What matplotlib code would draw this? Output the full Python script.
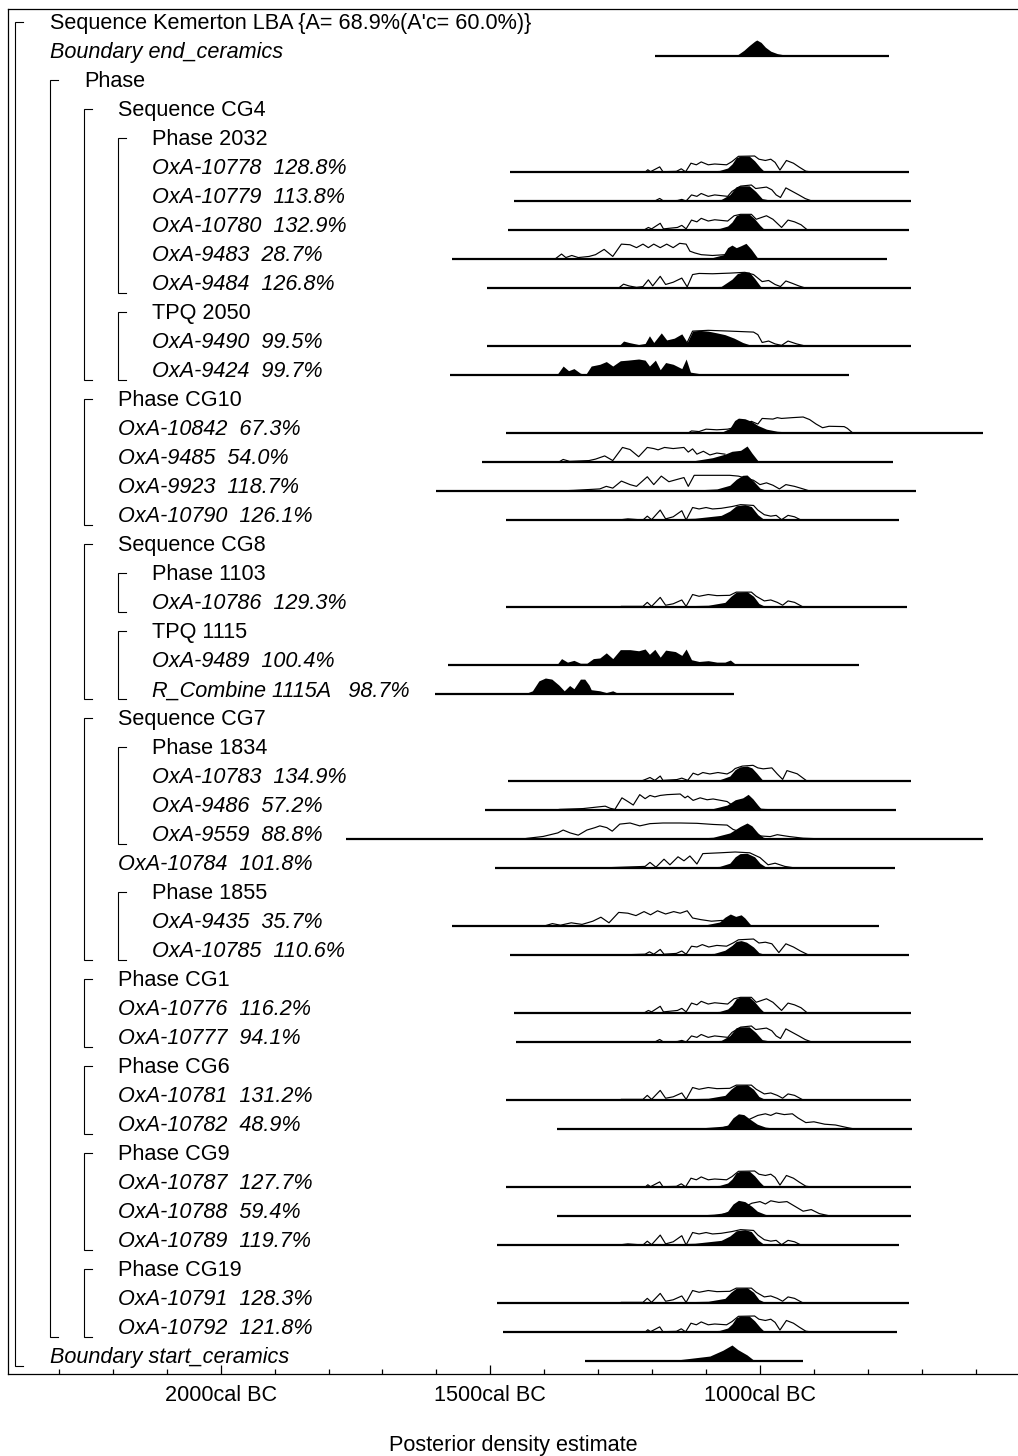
import matplotlib
matplotlib.use("Agg")
import matplotlib.pyplot as plt
from matplotlib import transforms

plt.rcParams["font.family"] = ["Liberation Sans", "DejaVu Sans"]

# ---- rows of the OxCal multiplot (top to bottom) ------------------------
LABELS = [
    "Sequence Kemerton LBA {A= 68.9%(A'c= 60.0%)}",
    "Boundary end_ceramics",
    "Phase",
    "Sequence CG4",
    "Phase 2032",
    "OxA-10778  128.8%",
    "OxA-10779  113.8%",
    "OxA-10780  132.9%",
    "OxA-9483  28.7%",
    "OxA-9484  126.8%",
    "TPQ 2050",
    "OxA-9490  99.5%",
    "OxA-9424  99.7%",
    "Phase CG10",
    "OxA-10842  67.3%",
    "OxA-9485  54.0%",
    "OxA-9923  118.7%",
    "OxA-10790  126.1%",
    "Sequence CG8",
    "Phase 1103",
    "OxA-10786  129.3%",
    "TPQ 1115",
    "OxA-9489  100.4%",
    "R_Combine 1115A   98.7%",
    "Sequence CG7",
    "Phase 1834",
    "OxA-10783  134.9%",
    "OxA-9486  57.2%",
    "OxA-9559  88.8%",
    "OxA-10784  101.8%",
    "Phase 1855",
    "OxA-9435  35.7%",
    "OxA-10785  110.6%",
    "Phase CG1",
    "OxA-10776  116.2%",
    "OxA-10777  94.1%",
    "Phase CG6",
    "OxA-10781  131.2%",
    "OxA-10782  48.9%",
    "Phase CG9",
    "OxA-10787  127.7%",
    "OxA-10788  59.4%",
    "OxA-10789  119.7%",
    "Phase CG19",
    "OxA-10791  128.3%",
    "OxA-10792  121.8%",
    "Boundary start_ceramics",
]
# g = group (Sequence/Phase/TPQ), d = date or boundary
KINDS = list("gdgggdddddgddgddddggdgddggddddgddgddgddgdddgddd")
DEPTHS = [0, 0, 1, 2, 3, 3, 3, 3, 3, 3, 3, 3, 3, 2, 2, 2, 2, 2, 2, 3, 3, 3, 3, 3,
          2, 3, 3, 3, 3, 2, 3, 3, 3, 2, 2, 2, 2, 2, 2, 2, 2, 2, 2, 2, 2, 2, 0]

# group brackets
GROUP_FIRST = [0, 2, 3, 4, 10, 13, 18, 19, 21, 24, 25, 30, 33, 36, 39, 43]
GROUP_LAST = [46, 45, 12, 9, 12, 17, 23, 20, 23, 32, 28, 32, 35, 38, 42, 45]
GROUP_DEPTH = [0, 1, 2, 3, 3, 2, 2, 3, 3, 2, 3, 3, 2, 2, 2, 2]

# plotted range of each distribution (cal BC)
RANGE_ROWS = [1, 5, 6, 7, 8, 9, 11, 12, 14, 15, 16, 17, 20, 22, 23, 26, 27, 28,
              29, 31, 32, 34, 35, 37, 38, 40, 41, 42, 44, 45, 46]
RANGE_FROM = [1195, 1464, 1456, 1467, 1571, 1506, 1506, 1575, 1471, 1515, 1601,
              1471, 1471, 1579, 1603, 1467, 1510, 1768, 1491, 1571, 1464, 1456,
              1452, 1471, 1376, 1471, 1376, 1488, 1488, 1477, 1324]
RANGE_TO = [761, 724, 720, 724, 765, 720, 720, 835, 587, 753, 711, 742, 727, 816,
            1048, 720, 748, 587, 750, 779, 724, 720, 720, 720, 718, 720, 720, 742,
            724, 746, 920]

# ---- distributions: (year cal BC, height relative to peak) -------------
POST_END = [(1195, 0), (1050, 0), (1044, 0.02), (1030, 0.35), (1020, 0.65),
            (1010, 0.92), (1006, 1.0), (998, 0.85), (990, 0.55), (980, 0.3),
            (968, 0.15), (955, 0.07), (935, 0.03), (880, 0.01), (761, 0)]
POST_START = [(1324, 0), (1250, 0.01), (1204, 0.03), (1148, 0.09), (1093, 0.31),
              (1069, 0.67), (1052, 1.0), (1041, 0.71), (1024, 0.38), (1013, 0.09),
              (1006, 0)]

LIK_10778 = [(1268, 0), (1212, 0.02), (1208, 0.14), (1203, 0.02), (1186, 0.32),
             (1180, 0.02), (1155, 0.04), (1146, 0.2), (1138, 0.01), (1128, 0.55),
             (1118, 0.45), (1109, 0.63), (1096, 0.45), (1084, 0.5), (1062, 0.45),
             (1052, 0.65), (1040, 0.98), (1010, 1.0), (1002, 0.8), (990, 0.72),
             (980, 0.8), (972, 0.6), (963, 0.12), (951, 0.72), (938, 0.55),
             (927, 0.3), (915, 0.05), (904, 0)]
POST_10778 = [(1270, 0), (1200, 0.02), (1120, 0.04), (1075, 0.1), (1060, 0.25),
              (1052, 0.5), (1044, 0.9), (1036, 1.0), (1020, 1.0), (1010, 0.7),
              (1000, 0.3), (994, 0.1), (980, 0.03), (930, 0.01), (900, 0)]

LIK_10779 = [(1195, 0), (1186, 0.16), (1179, 0), (1153, 0.03), (1145, 0.1),
             (1137, 0), (1127, 0.38), (1117, 0.29), (1109, 0.47), (1096, 0.29),
             (1084, 0.38), (1060, 0.29), (1052, 0.6), (1036, 0.93), (1016, 1.0),
             (1008, 0.78), (988, 0.87), (978, 0.7), (970, 0.38), (962, 0.22),
             (952, 0.82), (940, 0.6), (928, 0.38), (916, 0.15), (904, 0)]
POST_10779 = [(1380, 0), (1300, 0.03), (1200, 0.03), (1150, 0.02), (1072, 0.1),
              (1056, 0.4), (1044, 0.9), (1036, 0.95), (1020, 0.95), (1008, 0.6),
              (996, 0.15), (976, 0.03), (950, 0)]

LIK_10780 = [(1215, 0), (1207, 0.16), (1201, 0.07), (1185, 0.42), (1179, 0.07),
             (1153, 0.16), (1145, 0.29), (1137, 0.07), (1127, 0.62), (1117, 0.51),
             (1109, 0.73), (1096, 0.56), (1084, 0.64), (1060, 0.56), (1048, 0.89),
             (1036, 0.98), (1016, 0.98), (1007, 0.67), (988, 0.89), (976, 0.67),
             (960, 0.16), (948, 0.62), (936, 0.51), (924, 0.33), (912, 0)]

LIK_9483 = [(1380, 0), (1368, 0.31), (1360, 0.09), (1349, 0.22), (1337, 0.09),
            (1317, 0.16), (1305, 0.27), (1289, 0.6), (1273, 0.16), (1257, 0.93),
            (1241, 0.89), (1229, 0.71), (1217, 0.93), (1207, 0.71), (1197, 0.93),
            (1185, 0.71), (1173, 0.93), (1161, 0.71), (1149, 0.98), (1137, 0.93),
            (1130, 0.49), (1121, 0.38), (1109, 0.27), (1088, 0.22), (1065, 0.27),
            (1040, 0.15), (1010, 0.02), (1000, 0)]
POST_9483 = [(1380, 0), (1200, 0.02), (1110, 0.04), (1088, 0.09), (1068, 0.27),
             (1060, 0.71), (1052, 0.87), (1044, 0.71), (1036, 0.82), (1026, 0.98),
             (1016, 0.6), (1004, 0.04), (990, 0)]

LIK_9484 = [(1262, 0), (1253, 0.24), (1243, 0.13), (1229, 0.04), (1217, 0.09),
            (1207, 0.51), (1199, 0.13), (1185, 0.73), (1175, 0.22), (1161, 0.36),
            (1145, 0.62), (1135, 0.07), (1125, 0.84), (1113, 0.91), (1088, 0.89),
            (1056, 0.93), (1028, 0.98), (1012, 0.84), (996, 0.4), (984, 0.47),
            (972, 0.22), (962, 0.09), (952, 0.44), (940, 0.29), (928, 0.13),
            (916, 0)]
POST_9484 = [(1300, 0), (1150, 0.03), (1072, 0.1), (1052, 0.55), (1042, 0.9),
             (1032, 1.0), (1020, 1.0), (1010, 0.6), (999, 0.1), (976, 0)]

POST_9490 = [(1262, 0), (1253, 0.31), (1243, 0.22), (1225, 0.09), (1213, 0.16),
             (1205, 0.64), (1197, 0.22), (1183, 0.82), (1173, 0.38), (1159, 0.49),
             (1145, 0.76), (1135, 0.22), (1125, 0.93), (1113, 0.98), (1096, 0.93),
             (1080, 0.82), (1065, 0.71), (1048, 0.49), (1032, 0.22), (1016, 0.04),
             (1004, 0)]
LIK_9490 = [(1135, 0.22), (1125, 0.93), (1096, 0.98), (1056, 0.93), (1012, 0.87),
            (1004, 0.71), (996, 0.22), (984, 0.31), (972, 0.13), (960, 0.04),
            (948, 0.31), (932, 0.13), (916, 0)]

POST_9424 = [(1377, 0), (1365, 0.56), (1355, 0.27), (1345, 0.4), (1333, 0.11),
             (1323, 0.04), (1313, 0.56), (1297, 0.67), (1285, 0.84), (1273, 0.56),
             (1259, 0.89), (1245, 0.93), (1225, 1.0), (1213, 0.93), (1205, 0.56),
             (1194, 0.93), (1185, 0.33), (1175, 0.78), (1161, 0.67), (1145, 0.4),
             (1137, 1.0), (1129, 0.18), (1113, 0.09), (1080, 0.09), (1052, 0.07),
             (1040, 0)]

POST_10842 = [(1185, 0), (1129, 0.02), (1072, 0.04), (1056, 0.29), (1047, 0.78),
              (1040, 0.93), (1028, 0.89), (1016, 0.73), (1004, 0.47), (988, 0.24),
              (968, 0.11), (936, 0.04), (900, 0)]
LIK_10842 = [(1133, 0), (1127, 0.13), (1113, 0.09), (1100, 0.24), (1080, 0.2),
             (1060, 0.24), (1040, 0.4), (1016, 0.73), (1004, 0.56), (996, 0.91),
             (976, 0.87), (968, 0.96), (960, 0.91), (940, 0.96), (920, 1.0),
             (908, 0.84), (896, 0.56), (884, 0.33), (872, 0.42), (844, 0.4),
             (838, 0.29), (828, 0)]

POST_9485 = [(1300, 0), (1121, 0.09), (1088, 0.27), (1065, 0.49), (1052, 0.67),
             (1036, 0.73), (1024, 1.0), (1015, 0.56), (1002, 0)]
LIK_9485 = [(1373, 0), (1365, 0.16), (1353, 0.04), (1317, 0.09), (1305, 0.18),
            (1288, 0.38), (1273, 0.09), (1255, 0.91), (1241, 0.78), (1225, 0.33),
            (1209, 0.91), (1197, 0.84), (1189, 0.76), (1177, 0.91), (1161, 0.84),
            (1141, 0.91), (1133, 0.62), (1125, 0.82), (1117, 0.49), (1105, 0.67),
            (1093, 0.44), (1080, 0.56), (1065, 0.49)]

POST_9923 = [(1200, 0), (1137, 0.04), (1080, 0.13), (1056, 0.36), (1044, 0.73),
             (1032, 0.98), (1024, 1.0), (1012, 0.62), (1000, 0.18), (984, 0)]
LIK_9923 = [(1375, 0), (1345, 0.04), (1297, 0.13), (1285, 0.29), (1273, 0.18),
            (1257, 0.62), (1241, 0.4), (1229, 0.29), (1209, 0.89), (1197, 0.4),
            (1183, 0.93), (1169, 0.58), (1153, 0.73), (1141, 0.84), (1133, 0.29),
            (1122, 0.98), (1096, 0.98), (1056, 0.98), (1040, 0.93), (1012, 0.67),
            (1000, 0.4), (988, 0.51), (976, 0.36), (964, 0.13), (952, 0.4),
            (936, 0.29), (920, 0.13), (908, 0)]

POST_10790 = [(1257, 0), (1121, 0.11), (1072, 0.29), (1056, 0.56), (1044, 0.89),
              (1028, 0.96), (1016, 0.84), (1004, 0.33), (992, 0.02), (980, 0)]
LIK_10790 = [(1257, 0.02), (1245, 0.07), (1217, 0), (1209, 0.24), (1201, 0.02),
             (1185, 0.62), (1175, 0.07), (1161, 0.2), (1145, 0.58), (1137, 0),
             (1125, 0.78), (1113, 0.69), (1100, 0.78), (1088, 0.69), (1072, 0.73),
             (1052, 0.84), (1036, 0.96), (1012, 0.91), (1004, 0.62), (992, 0.33),
             (980, 0.24), (970, 0.29), (960, 0.02), (948, 0.29), (936, 0.2),
             (924, 0)]

POST_10786 = [(1257, 0), (1096, 0.11), (1065, 0.29), (1054, 0.67), (1044, 0.93),
              (1024, 0.96), (1012, 0.67), (1002, 0.22), (988, 0)]
LIK_10786 = [(1257, 0.04), (1217, 0.04), (1209, 0.29), (1201, 0.04), (1185, 0.6),
             (1175, 0.11), (1161, 0.2), (1145, 0.44), (1137, 0.04), (1125, 0.78),
             (1113, 0.67), (1096, 0.78), (1080, 0.71), (1056, 0.73), (1044, 0.93),
             (1016, 0.93), (1007, 0.67), (992, 0.38), (980, 0.44), (968, 0.29),
             (958, 0.11), (948, 0.38), (936, 0.29), (920, 0)]

POST_9489 = [(1377, 0), (1368, 0.4), (1357, 0.18), (1345, 0.29), (1333, 0.11),
             (1321, 0.11), (1309, 0.4), (1297, 0.44), (1285, 0.76), (1273, 0.4),
             (1259, 0.96), (1241, 0.96), (1225, 0.89), (1213, 1.0), (1205, 0.67),
             (1195, 0.98), (1185, 0.49), (1175, 0.93), (1157, 0.84), (1145, 0.6),
             (1137, 1.0), (1127, 0.33), (1113, 0.22), (1096, 0.27), (1080, 0.18),
             (1065, 0.18), (1055, 0.31), (1047, 0.09), (1024, 0)]

POST_COMBINE = [(1440, 0), (1434, 0.04), (1422, 0.2), (1410, 0.82), (1398, 1.0),
                (1386, 0.93), (1373, 0.56), (1363, 0.2), (1353, 0.53), (1345, 0.33),
                (1333, 0.93), (1325, 0.93), (1317, 0.56), (1313, 0.27), (1297, 0.2),
                (1285, 0.09), (1273, 0.2), (1265, 0.07), (1249, 0)]

LIK_10783 = [(1220, 0), (1213, 0.09), (1204, 0.22), (1195, 0.04), (1185, 0.31),
             (1180, 0.04), (1154, 0.09), (1145, 0.18), (1134, 0.04), (1124, 0.49),
             (1115, 0.38), (1106, 0.53), (1093, 0.44), (1078, 0.53), (1061, 0.44),
             (1052, 0.6), (1046, 0.78), (1033, 0.93), (1013, 0.98), (1004, 0.82),
             (994, 0.76), (978, 0.82), (968, 0.44), (958, 0.1), (950, 0.65),
             (931, 0.45), (913, 0)]
POST_10783 = [(1250, 0), (1150, 0.03), (1075, 0.08), (1056, 0.31), (1046, 0.71),
              (1037, 0.89), (1024, 0.93), (1015, 0.82), (1006, 0.49), (996, 0.09),
              (987, 0)]

LIK_9486 = [(1380, 0), (1371, 0.04), (1328, 0.09), (1287, 0.24), (1278, 0.11),
            (1269, 0.04), (1256, 0.76), (1245, 0.53), (1235, 0.31), (1223, 0.96),
            (1213, 0.71), (1204, 0.91), (1195, 0.82), (1185, 0.91), (1172, 0.96),
            (1148, 1.0), (1139, 0.76), (1134, 0.87), (1124, 0.6), (1111, 0.76),
            (1098, 0.64), (1087, 0.69), (1061, 0.53), (1052, 0.31), (1040, 0.2),
            (1020, 0.1), (990, 0.03), (960, 0)]
POST_9486 = [(1200, 0), (1087, 0.09), (1061, 0.31), (1046, 0.64), (1032, 0.76),
             (1022, 0.98), (1013, 0.69), (1004, 0.31), (996, 0)]

LIK_9559 = [(1440, 0), (1432, 0.04), (1402, 0.16), (1375, 0.38), (1365, 0.56),
            (1352, 0.38), (1337, 0.24), (1321, 0.56), (1306, 0.71), (1297, 0.82),
            (1284, 0.71), (1274, 0.49), (1260, 0.93), (1241, 1.0), (1223, 0.82),
            (1204, 0.96), (1180, 1.0), (1148, 1.0), (1117, 0.98), (1087, 0.91),
            (1061, 0.87), (1050, 0.6), (1024, 0.3), (1004, 0.2), (981, 0.15),
            (968, 0.27), (955, 0.2), (945, 0.15), (920, 0.05), (880, 0)]
POST_9559 = [(1150, 0), (1087, 0.11), (1056, 0.38), (1037, 0.78), (1024, 1.0),
             (1015, 0.82), (1004, 0.38), (994, 0.11), (981, 0.04), (960, 0)]

LIK_10784 = [(1297, 0), (1213, 0.1), (1204, 0.35), (1193, 0.05), (1178, 0.55),
             (1167, 0.2), (1152, 0.7), (1141, 0.45), (1130, 0.75), (1117, 0.25),
             (1106, 0.9), (1074, 0.95), (1046, 1.0), (1019, 0.95), (1000, 0.65),
             (985, 0.2), (972, 0.3), (954, 0.1), (935, 0)]
POST_10784 = [(1250, 0), (1120, 0.04), (1075, 0.1), (1056, 0.3), (1046, 0.7),
              (1037, 0.9), (1024, 0.92), (1010, 0.7), (1000, 0.3), (990, 0.08),
              (975, 0.03), (950, 0)]

LIK_9435 = [(1400, 0), (1385, 0.15), (1370, 0.05), (1350, 0.2), (1330, 0.1),
            (1310, 0.3), (1295, 0.55), (1280, 0.2), (1262, 0.85), (1245, 0.8),
            (1230, 0.65), (1215, 0.9), (1203, 0.7), (1190, 0.95), (1175, 0.75),
            (1160, 0.9), (1148, 0.8), (1135, 0.95), (1125, 0.5), (1110, 0.4),
            (1090, 0.3), (1070, 0.35), (1050, 0.2), (1030, 0.08), (1010, 0)]
POST_9435 = [(1300, 0), (1150, 0.03), (1100, 0.08), (1075, 0.25), (1065, 0.55),
             (1055, 0.75), (1045, 0.6), (1035, 0.7), (1028, 0.5), (1018, 0.1),
             (1005, 0)]

LIK_10785 = [(1265, 0), (1213, 0.05), (1205, 0.2), (1197, 0.05), (1185, 0.35),
             (1178, 0.05), (1155, 0.1), (1145, 0.25), (1137, 0.05), (1127, 0.55),
             (1117, 0.5), (1107, 0.65), (1095, 0.5), (1080, 0.6), (1062, 0.55),
             (1050, 0.75), (1040, 0.95), (1012, 1.0), (1002, 0.75), (990, 0.8),
             (978, 0.7), (965, 0.15), (952, 0.7), (938, 0.5), (925, 0.25), (910, 0)]
POST_10785 = [(1260, 0), (1150, 0.03), (1085, 0.1), (1065, 0.3), (1052, 0.6),
              (1044, 0.85), (1035, 0.9), (1025, 0.8), (1012, 0.5), (1002, 0.15),
              (990, 0.03), (960, 0)]

LIK_10782 = [(1110, 0), (1090, 0.05), (1070, 0.1), (1056, 0.15), (1040, 0.35),
             (1020, 0.6), (1004, 0.85), (990, 0.95), (980, 0.85), (970, 1.0),
             (955, 0.9), (940, 0.95), (930, 0.7), (915, 0.4), (900, 0.45),
             (880, 0.3), (860, 0.25), (840, 0.1), (825, 0)]
POST_10782 = [(1200, 0), (1080, 0.05), (1060, 0.25), (1050, 0.7), (1040, 0.95),
              (1030, 0.9), (1018, 0.6), (1005, 0.3), (990, 0.12), (970, 0.04),
              (940, 0)]

LIK_10788 = [(1110, 0), (1085, 0.05), (1060, 0.15), (1045, 0.3), (1030, 0.55),
             (1015, 0.8), (1000, 0.9), (990, 0.75), (980, 0.95), (965, 0.85),
             (950, 0.9), (935, 0.6), (920, 0.3), (905, 0.4), (890, 0.15), (870, 0)]
POST_10788 = [(1200, 0), (1080, 0.05), (1060, 0.3), (1050, 0.75), (1040, 0.98),
              (1028, 0.9), (1015, 0.6), (1005, 0.3), (990, 0.1), (970, 0.03),
              (940, 0)]

POSTERIOR = {
    1: POST_END, 5: POST_10778, 6: POST_10779, 7: POST_10778, 8: POST_9483,
    9: POST_9484, 11: POST_9490, 12: POST_9424, 14: POST_10842, 15: POST_9485,
    16: POST_9923, 17: POST_10790, 20: POST_10786, 22: POST_9489,
    23: POST_COMBINE, 26: POST_10783, 27: POST_9486, 28: POST_9559,
    29: POST_10784, 31: POST_9435, 32: POST_10785, 34: POST_10778,
    35: POST_10779, 37: POST_10786, 38: POST_10782, 40: POST_10778,
    41: POST_10788, 42: POST_10790, 44: POST_10786, 45: POST_10778,
    46: POST_START,
}
LIKELIHOOD = {
    5: LIK_10778, 6: LIK_10779, 7: LIK_10780, 8: LIK_9483, 9: LIK_9484,
    11: LIK_9490, 14: LIK_10842, 15: LIK_9485, 16: LIK_9923, 17: LIK_10790,
    20: LIK_10786, 26: LIK_10783, 27: LIK_9486, 28: LIK_9559, 29: LIK_10784,
    31: LIK_9435, 32: LIK_10785, 34: LIK_10780, 35: LIK_10779, 37: LIK_10786,
    38: LIK_10782, 40: LIK_10778, 41: LIK_10788, 42: LIK_10790, 44: LIK_10786,
    45: LIK_10778,
}

MAJOR_TICKS = [2000, 1500, 1000]
MAJOR_LABELS = ["2000cal BC", "1500cal BC", "1000cal BC"]
MINOR_TICKS = [2300, 2200, 2100, 1900, 1800, 1700, 1600, 1400, 1300, 1200,
               1100, 900, 800, 700, 600]

# ---- layout (pixels of the 1018 x 1456 output) -------------------------
W, H = 1018, 1456
AX_L, AX_T, AX_B = 8.3, 9.0, 1374.0
ROW0, ROW_STEP = 22.0, 29.0
TEXT_X = [50, 84, 118, 152]
BRACKET_X = [15, 50, 84, 118]
BASE_OFF = 5.0 / ROW_STEP      # baseline below row centre
PEAK = 16.0 / ROW_STEP         # height of a full peak
FS = 15.6


def fx(px):
    return (px - AX_L) / (W - AX_L)


def draw_dist(ax, row, pts, filled):
    yrs = [p[0] for p in pts]
    base = row + BASE_OFF
    tops = [base - p[1] * PEAK for p in pts]
    if filled:
        ax.fill_between(yrs, base, tops, color="black", lw=0, zorder=3)
    else:
        ax.plot(yrs, tops, color="black", lw=0.85, zorder=2)


def main():
    fig = plt.figure(figsize=(W / 100, H / 100), dpi=100)
    ax = fig.add_axes([AX_L / W, 1 - AX_B / H, (W - AX_L) / W, (AX_B - AX_T) / H])
    ax.set_xlim(2000 + (220.7 - AX_L) / 0.5393, 1000 - (W - 760) / 0.5393)
    ax.set_ylim((AX_B - ROW0) / ROW_STEP, (AX_T - ROW0) / ROW_STEP)

    for s in ("left", "top", "bottom"):
        ax.spines[s].set_linewidth(0.9)
    ax.spines["right"].set_visible(False)
    ax.set_yticks([])
    ax.set_xticks(MAJOR_TICKS)
    ax.set_xticklabels(MAJOR_LABELS, fontsize=FS)
    ax.set_xticks(MINOR_TICKS, minor=True)
    ax.tick_params(axis="x", which="major", direction="in", length=6.5, width=0.9, pad=8)
    ax.tick_params(axis="x", which="minor", direction="in", length=3.6, width=0.9)
    ax.set_xlabel("Posterior density estimate", fontsize=FS, labelpad=21)

    mix = transforms.blended_transform_factory(ax.transAxes, ax.transData)

    # labels
    for row, (lab, kind, depth) in enumerate(zip(LABELS, KINDS, DEPTHS)):
        ax.text(fx(TEXT_X[depth]), row + 7.4 / ROW_STEP, lab, transform=mix,
                fontsize=FS, va="baseline", ha="left",
                style="italic" if kind == "d" else "normal")

    # brackets
    tick = 8.0 / (W - AX_L)
    for first, last, depth in zip(GROUP_FIRST, GROUP_LAST, GROUP_DEPTH):
        x0 = fx(BRACKET_X[depth])
        y0, y1 = first, last + 10.0 / ROW_STEP
        ax.plot([x0 + tick, x0, x0, x0 + tick], [y0, y0, y1, y1],
                transform=mix, color="black", lw=0.8, solid_joinstyle="miter")

    # distributions
    for row, a, b in zip(RANGE_ROWS, RANGE_FROM, RANGE_TO):
        ax.plot([a, b], [row + BASE_OFF] * 2, color="black", lw=1.6,
                solid_capstyle="butt", zorder=4)
        if row in LIKELIHOOD:
            draw_dist(ax, row, LIKELIHOOD[row], filled=False)
        if row in POSTERIOR:
            draw_dist(ax, row, POSTERIOR[row], filled=True)

    fig.savefig("out.png", dpi=100)


if __name__ == "__main__":
    main()
